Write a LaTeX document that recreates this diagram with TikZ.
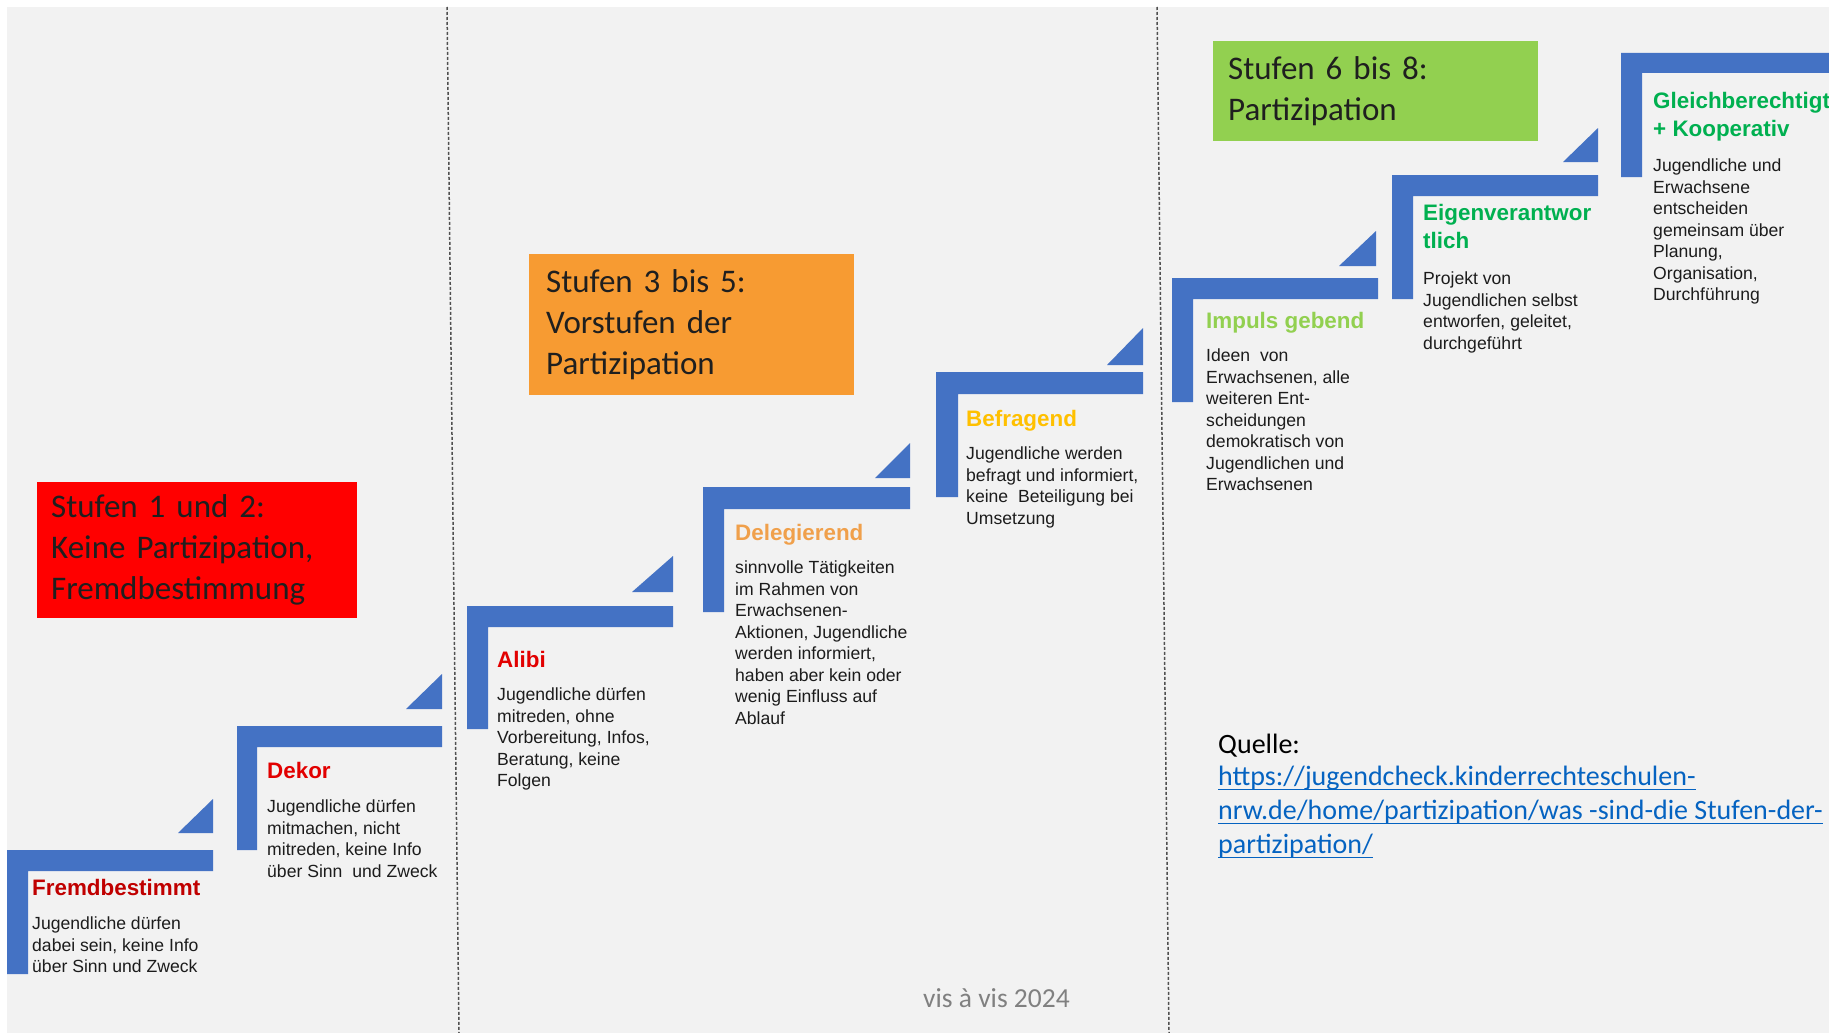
\documentclass[tikz,border=0pt]{standalone}
\usepackage{fontspec}
\usepackage{tikz}
\setmainfont{Carlito}
\newfontfamily\stepfont{Liberation Sans}
\newfontfamily\boxfont{Carlito}

\definecolor{bggray}{RGB}{242,242,242}
\definecolor{stepblue}{RGB}{68,114,196}
\definecolor{bodygray}{RGB}{28,28,28}
\definecolor{boxred}{RGB}{255,0,0}
\definecolor{boxorange}{RGB}{247,155,50}
\definecolor{boxgreen}{RGB}{146,208,80}
\definecolor{fremdred}{RGB}{192,0,0}
\definecolor{dekorred}{RGB}{226,0,0}
\definecolor{delegorange}{RGB}{240,160,75}
\definecolor{befraggold}{RGB}{255,192,0}
\definecolor{impulsgreen}{RGB}{146,208,80}
\definecolor{partgreen}{RGB}{0,176,80}
\definecolor{linkblue}{RGB}{5,99,193}
\definecolor{footgray}{RGB}{128,128,128}
\definecolor{linegray}{RGB}{80,80,80}

% underlined link line
\newcommand{\linkul}[1]{\setbox0\hbox{#1}\leavevmode\rlap{\rule[-4.5pt]{\wd0}{1.4pt}}\box0}

\tikzset{
  stepbar/.style={fill=stepblue},
  steptitle/.style={anchor=north west, inner sep=0pt, align=left, font=\stepfont\bfseries\fontsize{22.4}{28.5}\selectfont},
  steptext/.style={anchor=north west, inner sep=0pt, align=left, text=bodygray, font=\stepfont\fontsize{17.6}{21.5}\selectfont},
  stagebox/.style={anchor=north west, inner ysep=0pt, align=left, text=black!88, font=\boxfont\fontsize{33}{41}\selectfont},
  divider/.style={draw=linegray, line width=1.5pt, dash pattern=on 3pt off 2pt}
}

\begin{document}
\begin{tikzpicture}[x=1pt,y=1pt,yscale=-1,xscale=1]
\useasboundingbox (0,0) rectangle (1829,1033);

%Shape: Rectangle [background]
\fill[white] (0,0) rectangle (1829,1033);
\fill[bggray] (7,7) rectangle (1829,1033);

%Straight Lines [dividers]
\draw[divider] (447,7) -- (459,1033);
\draw[divider] (1157,7) -- (1169,1033);

%Shape: Step 1
\fill[stepbar] (7,850) -- (213,850) -- (213,871) -- (28,871) -- (28,974) -- (7,974) -- cycle;
\fill[stepbar] (178,833) -- (213,833) -- (213,799) -- cycle;
%Shape: Step 2
\fill[stepbar] (237,726) -- (442,726) -- (442,747) -- (257,747) -- (257,850) -- (237,850) -- cycle;
\fill[stepbar] (406,709) -- (442,709) -- (442,674) -- cycle;
%Shape: Step 3
\fill[stepbar] (467,606) -- (673,606) -- (673,627) -- (488,627) -- (488,729) -- (467,729) -- cycle;
\fill[stepbar] (632,592) -- (673,592) -- (673,556) -- cycle;
%Shape: Step 4
\fill[stepbar] (703,487) -- (910,487) -- (910,509) -- (724,509) -- (724,612) -- (703,612) -- cycle;
\fill[stepbar] (875,478) -- (910,478) -- (910,443) -- cycle;
%Shape: Step 5
\fill[stepbar] (936,372) -- (1143,372) -- (1143,394) -- (958,394) -- (958,497) -- (936,497) -- cycle;
\fill[stepbar] (1107,365) -- (1143,365) -- (1143,328) -- cycle;
%Shape: Step 6
\fill[stepbar] (1172,278) -- (1378,278) -- (1378,299) -- (1193,299) -- (1193,402) -- (1172,402) -- cycle;
\fill[stepbar] (1339,266) -- (1376,266) -- (1376,231) -- cycle;
%Shape: Step 7
\fill[stepbar] (1392,175) -- (1598,175) -- (1598,196) -- (1413,196) -- (1413,299) -- (1392,299) -- cycle;
\fill[stepbar] (1563,162) -- (1598,162) -- (1598,128) -- cycle;
%Shape: Step 8
\fill[stepbar] (1621,53) -- (1829,53) -- (1829,73) -- (1642,73) -- (1642,177) -- (1621,177) -- cycle;

% Stage boxes
\node (stufeneins) [stagebox, fill=boxred, inner xsep=14pt, text width=292pt, minimum width=320pt, minimum height=136pt] at (37,482) {Stufen 1 und 2:\\Keine Partizipation,\\Fremdbestimmung};
\node (stufendrei) [stagebox, fill=boxorange, inner xsep=17pt, text width=291pt, minimum width=325pt, minimum height=141pt] at (529,254) {Stufen 3 bis 5:\\Vorstufen der\\Partizipation};
\node (stufensechs) [stagebox, fill=boxgreen, inner xsep=15pt, text width=295pt, minimum width=325pt, minimum height=100pt] at (1213,41) {Stufen 6 bis 8:\\Partizipation};

% Text Node
\node (fremdtitle) [steptitle, text=fremdred] at (32,879) {Fremdbestimmt};
\node (fremdtext) [steptext] at (32,917) {Jugendliche dürfen\\dabei sein, keine Info\\über Sinn und Zweck};
% Text Node
\node (dekortitle) [steptitle, text=dekorred] at (267,762) {Dekor};
\node (dekortext) [steptext] at (267,800) {Jugendliche dürfen\\mitmachen, nicht\\mitreden, keine Info\\über Sinn~ und Zweck};
% Text Node
\node (alibititle) [steptitle, text=dekorred] at (497,651) {Alibi};
\node (alibitext) [steptext] at (497,688) {Jugendliche dürfen\\mitreden, ohne\\Vorbereitung, Infos,\\Beratung, keine\\Folgen};
% Text Node
\node (delegtitle) [steptitle, text=delegorange] at (735,524) {Delegierend};
\node (delegtext) [steptext] at (735,561) {sinnvolle Tätigkeiten\\im Rahmen von\\Erwachsenen-\\Aktionen, Jugendliche\\werden informiert,\\haben aber kein oder\\wenig Einfluss auf\\Ablauf};
% Text Node
\node (befragtitle) [steptitle, text=befraggold] at (966,410) {Befragend};
\node (befragtext) [steptext] at (966,447) {Jugendliche werden\\befragt und informiert,\\keine~ Beteiligung bei\\Umsetzung};
% Text Node
\node (impulstitle) [steptitle, text=impulsgreen] at (1206,312) {Impuls gebend};
\node (impulstext) [steptext] at (1206,349) {Ideen~ von\\Erwachsenen, alle\\weiteren Ent-\\scheidungen\\demokratisch von\\Jugendlichen und\\Erwachsenen};
% Text Node
\node (eigentitle) [steptitle, text=partgreen] at (1423,204) {Eigenverantwor\\tlich};
\node (eigentext) [steptext] at (1423,272) {Projekt von\\Jugendlichen selbst\\entworfen, geleitet,\\durchgeführt};
% Text Node
\node (gleichtitle) [steptitle, text=partgreen] at (1653,92) {Gleichberechtigt\\+ Kooperativ};
\node (gleichtext) [steptext] at (1653,159) {Jugendliche und\\Erwachsene\\entscheiden\\gemeinsam über\\Planung,\\Organisation,\\Durchführung};

% Text Node
\node (quelle) [anchor=base west, inner sep=0pt, align=left, font=\boxfont\fontsize{28}{34}\selectfont] at (1218,753) {\strut Quelle:};
\node (quellelink) [anchor=north west, inner sep=0pt, align=left, text=linkblue, font=\boxfont\fontsize{28}{34}\selectfont] at (1218,766) {\linkul{https://jugendcheck.kinderrechteschulen-}\\\linkul{nrw.de/home/partizipation/was -sind-die Stufen-der-}\\\linkul{partizipation/}};
% Text Node
\node (visavis) [anchor=base west, inner sep=0pt, text=footgray, font=\boxfont\fontsize{27.5}{32}\selectfont] at (923,1007) {vis à vis 2024};

\end{tikzpicture}
\end{document}
